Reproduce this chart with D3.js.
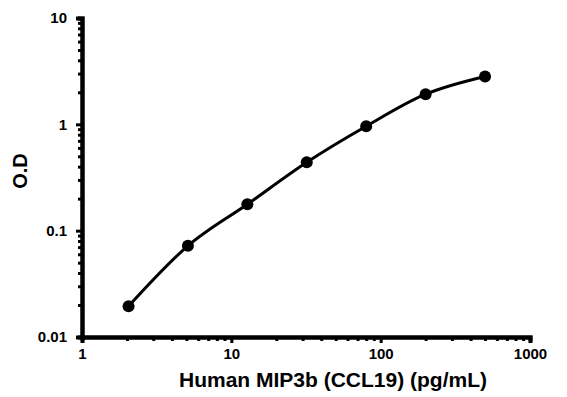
<!DOCTYPE html>
<html lang="en">
<head>
<meta charset="UTF-8">
<title>Human MIP3b standard curve</title>
<style>
  body { margin: 0; background: #fff; }
  text { font-family: Arial, "Liberation Sans", sans-serif; font-weight: bold; fill: #000; }
</style>
</head>
<body>
<script src="https://d3js.org/d3.v7.min.js"></script>
<script>
// data
var conc = [2.05, 5.12, 12.8, 32, 80, 200, 500];
var od = [0.0195, 0.072, 0.177, 0.44, 0.96, 1.92, 2.82];
var xTicks = [1, 10, 100, 1000];
var yTicks = [0.01, 0.1, 1, 10];

var width = 567, height = 397;
var svg = d3.select("body").append("svg").attr("width", width).attr("height", height);

// scales
var x = d3.scaleLog().domain([1, 1000]).range([82, 530]);
var y = d3.scaleLog().domain([0.01, 10]).range([337, 18]);

// minor tick values (2..9 per decade)
function minors(lo, hi) {
  var out = [];
  for (var d = lo; d < hi; d *= 10) {
    for (var k = 2; k <= 9; k++) out.push(d * k);
  }
  return out;
}

// x axis
var gx = svg.append("g").attr("transform", "translate(0,337)");
gx.call(d3.axisBottom(x).tickValues(minors(1, 1000)).tickSize(4).tickFormat(""));
gx.append("g").call(d3.axisBottom(x).tickValues(xTicks).tickSize(6).tickFormat(d3.format("d")));
// y axis
var gy = svg.append("g").attr("transform", "translate(82,0)");
gy.call(d3.axisLeft(y).tickValues(minors(0.01, 10)).tickSize(4).tickFormat(""));
gy.append("g").call(d3.axisLeft(y).tickValues(yTicks).tickSize(6)
  .tickFormat(function(d){ return d >= 1 ? d3.format("d")(d) : d3.format(".2~f")(d); }));

svg.selectAll(".domain").attr("stroke", "#000").attr("stroke-width", 4);
svg.selectAll(".tick line").attr("stroke", "#000").attr("stroke-width", 3);
svg.selectAll(".tick text").style("font-size", "15px").style("font-weight", "bold")
  .style("font-family", "Arial, 'Liberation Sans', sans-serif");
gx.selectAll(".tick text").attr("y", 11).attr("dy", "0.71em");
gy.selectAll(".tick text").attr("x", -15);

// axis titles
svg.append("text").attr("x", 333).attr("y", 387).attr("text-anchor", "middle")
  .style("font-size", "21px").text("Human MIP3b (CCL19) (pg/mL)");
svg.append("text").attr("transform", "translate(27,171) rotate(-90)")
  .attr("text-anchor", "middle").style("font-size", "20px").text("O.D");

// curve + points
var pts = conc.map(function(c, i){ return [c, od[i]]; });
var line = d3.line().x(function(d){ return x(d[0]); }).y(function(d){ return y(d[1]); })
  .curve(d3.curveMonotoneX);
svg.append("path").datum(pts).attr("d", line).attr("fill", "none")
  .attr("stroke", "#000").attr("stroke-width", 3);
svg.selectAll("circle.pt").data(pts).enter().append("circle").attr("class", "pt")
  .attr("cx", function(d){ return x(d[0]); }).attr("cy", function(d){ return y(d[1]); })
  .attr("r", 6).attr("fill", "#000");
</script>
</body>
</html>
